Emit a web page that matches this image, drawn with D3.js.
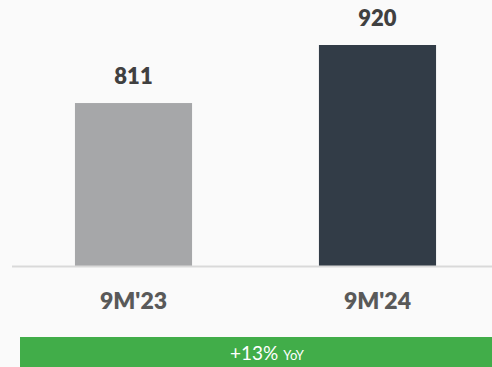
<!DOCTYPE html>
<html>
<head>
<meta charset="utf-8">
<script src="https://cdn.jsdelivr.net/npm/d3@7"></script>
<style>
  body { margin: 0; background: #fafafa; }
  svg { display: block; font-family: Lato, "Open Sans", sans-serif; }
</style>
</head>
<body>
<div id="chart"></div>
<script>
// data
const periods = ["9M'23", "9M'24"];
const values = [811, 920];
const barColors = ['#a6a7a9', '#323c47'];
const growthLabel = '+13%';
const growthSuffix = 'YoY';

const width = 492, height = 367;

const svg = d3.select('#chart').append('svg')
    .attr('width', width)
    .attr('height', height);

svg.append('rect')
    .attr('width', width).attr('height', height)
    .attr('fill', '#fafafa');

const x = d3.scaleBand()
    .domain(periods)
    .range([12, 499])
    .paddingInner(0.52)
    .paddingOuter(0.258);

const y = d3.scaleLinear()
    .domain([505, 920])
    .range([266, 45]);

const data = periods.map((p, i) => ({period: p, value: values[i], color: barColors[i]}));

svg.append('g').attr('class', 'bars')
  .selectAll('rect')
  .data(data)
  .join('rect')
    .attr('x', d => x(d.period))
    .attr('width', x.bandwidth())
    .attr('y', d => y(d.value))
    .attr('height', d => y.range()[0] - y(d.value))
    .attr('fill', d => d.color);

svg.append('g').attr('class', 'values')
  .selectAll('text')
  .data(data)
  .join('text')
    .attr('x', d => x(d.period) + x.bandwidth() / 2)
    .attr('y', d => y(d.value) - 19)
    .attr('text-anchor', 'middle')
    .attr('font-size', 22)
    .attr('font-weight', 800)
    .attr('fill', '#404040')
    .text(d => d3.format(',')(d.value));

// baseline + category labels
svg.append('g')
    .attr('transform', `translate(0,${y.range()[0]})`)
    .call(d3.axisBottom(x).tickSize(0).tickPadding(27))
    .call(g => g.select('.domain')
        .attr('d', `M12,0.5H${width}`)
        .attr('stroke', '#d9d9d9')
        .attr('stroke-width', 2))
    .call(g => g.selectAll('.tick text')
        .attr('font-family', 'Lato, "Open Sans", sans-serif')
        .attr('font-size', 23)
        .attr('font-weight', 800)
        .attr('fill', '#595959'));

// growth banner
const banner = svg.append('g').attr('transform', 'translate(20,337)');
banner.append('rect')
    .attr('width', width - 20)
    .attr('height', 30)
    .attr('fill', '#41ad49');
const t = banner.append('text')
    .attr('x', 247)
    .attr('y', 23)
    .attr('text-anchor', 'middle')
    .attr('fill', '#ffffff');
t.append('tspan').attr('font-size', 19).text(growthLabel + ' ');
t.append('tspan').attr('font-size', 13).text(growthSuffix);
</script>
</body>
</html>
